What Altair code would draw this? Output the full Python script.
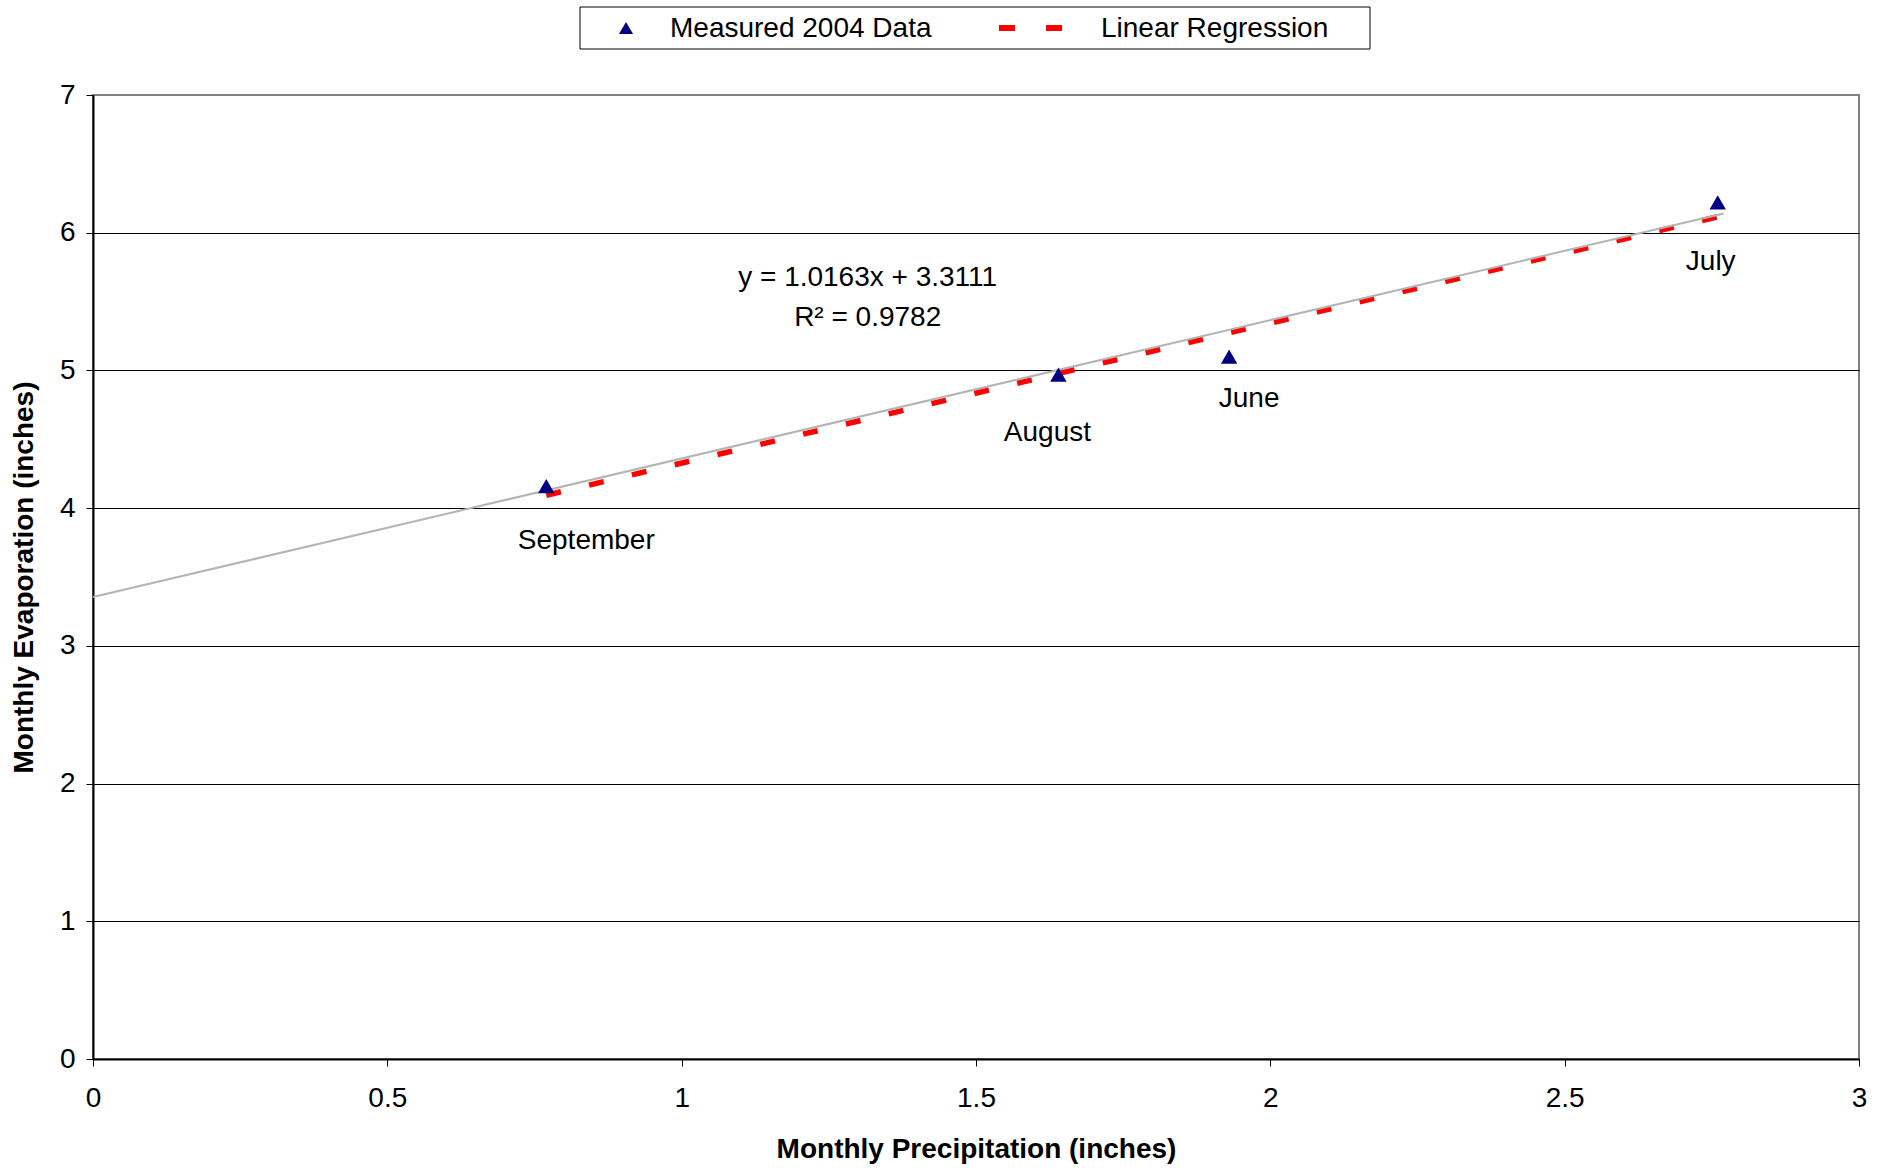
import altair as alt
import pandas as pd

# ---- data ----
months = ["June", "July", "August", "September"]
precip = [1.93, 2.76, 1.64, 0.77]          # Monthly Precipitation (inches)
evap = [5.10, 6.22, 4.97, 4.16]            # Monthly Evaporation (inches)

# regression equation printed on the chart
slope = 1.0163
intercept = 3.3111
r2 = 0.9782

# grey trendline as drawn (end points)
trend_x = [0.0, 2.77]
trend_y = [3.355, 6.14]

# label offsets (px) for each month label
label_dx = {"June": 20, "July": -7, "August": -11, "September": 40}
label_dy = {"June": 42, "July": 60, "August": 58, "September": 55}

FONT = "Liberation Sans"
FS = 28

W, H = 1766, 964

pts = pd.DataFrame({"month": months, "x": precip, "y": evap})
reg_xs = sorted(precip)
reg = pd.DataFrame({"x": reg_xs, "y": [slope * v + intercept for v in reg_xs]})
trend = pd.DataFrame({"x": trend_x, "y": trend_y})

xs = alt.Scale(domain=[0, 3], nice=False, zero=True)
ys = alt.Scale(domain=[0, 7], nice=False, zero=True)

xenc = alt.X("x:Q", scale=xs, axis=alt.Axis(
    title="Monthly Precipitation (inches)", values=[0, 0.5, 1, 1.5, 2, 2.5, 3],
    format="~g", grid=False, tickSize=7, labelPadding=32, labelBaseline="middle",
    labelFlush=False, titleY=90, titleBaseline="middle"))
yenc = alt.Y("y:Q", scale=ys, axis=alt.Axis(
    title="Monthly Evaporation (inches)", values=[0, 1, 2, 3, 4, 5, 6, 7],
    format="~g", grid=True, tickSize=7, labelPadding=11,
    gridColor={"condition": {"test": "datum.value === 7", "value": "#808080"}, "value": "#000000"},
    titleX=-69, titleY=H / 2, titleBaseline="middle"))

red = alt.Chart(reg).mark_line(color="#ff0000", strokeWidth=5.5, strokeDash=[15, 29],
                               strokeCap="butt").encode(x=xenc, y=yenc)
grey = alt.Chart(trend).mark_line(color="#b4b4b4", strokeWidth=2).encode(x="x:Q", y="y:Q")
points = alt.Chart(pts).mark_point(shape="triangle-up", filled=True, opacity=1,
                                   color="#000080", size=270).encode(x="x:Q", y="y:Q")

labels = []
for m in months:
    labels.append(
        alt.Chart(pts[pts.month == m]).mark_text(
            font=FONT, fontSize=FS, color="black", dx=label_dx[m], dy=label_dy[m],
            baseline="middle", align="center").encode(x="x:Q", y="y:Q", text="month:N"))

eq = pd.DataFrame({"x": [1.316, 1.316],
                   "y": [5.67, 5.38],
                   "t": [f"y = {slope}x + {intercept}", f"R² = {r2}"]})
eq_text = alt.Chart(eq).mark_text(font=FONT, fontSize=FS, color="black",
                                  baseline="middle", align="center").encode(
    x="x:Q", y="y:Q", text="t:N")

# ---- legend (decoration) ----
one = pd.DataFrame({"a": [0]})
leg_box = alt.Chart(one).mark_rect(fill="white", stroke="black", strokeWidth=1).encode(
    x=alt.value(487), x2=alt.value(1277), y=alt.value(-88), y2=alt.value(-46))
leg_tri = alt.Chart(one).mark_point(shape="triangle-up", filled=True, opacity=1,
                                    color="#000080", size=200).encode(
    x=alt.value(533), y=alt.value(-67))
leg_dash = alt.Chart(one).mark_rule(color="#ff0000", strokeWidth=6, strokeDash=[16, 31],
                                    strokeCap="butt").encode(
    x=alt.value(906), x2=alt.value(970), y=alt.value(-67))
leg_txt = alt.Chart(pd.DataFrame({"t": ["Measured 2004 Data", "Linear Regression"],
                                  "px": [577, 1008]})).mark_text(
    font=FONT, fontSize=FS, color="black", align="left", baseline="middle").encode(
    x=alt.X("px:Q", scale=None), y=alt.value(-66), text="t:N")

chart = alt.layer(red, grey, points, *labels, eq_text, leg_box, leg_tri, leg_dash, leg_txt).properties(
    width=W, height=H,
    autosize=alt.AutoSizeParams(type="none"),
    padding={"left": 93, "top": 95, "right": 28, "bottom": 109},
    background="white",
).configure_view(
    stroke="#808080", strokeWidth=2
).configure_axis(
    labelFont=FONT, labelFontSize=FS, labelColor="black",
    titleFont=FONT, titleFontSize=FS, titleFontWeight="bold", titleColor="black",
    domainColor="#000000", domainWidth=2, tickColor="#000000", tickWidth=1,
    gridWidth=1,
)

chart.save("out.html", embed_options={"renderer": "svg", "actions": False})
